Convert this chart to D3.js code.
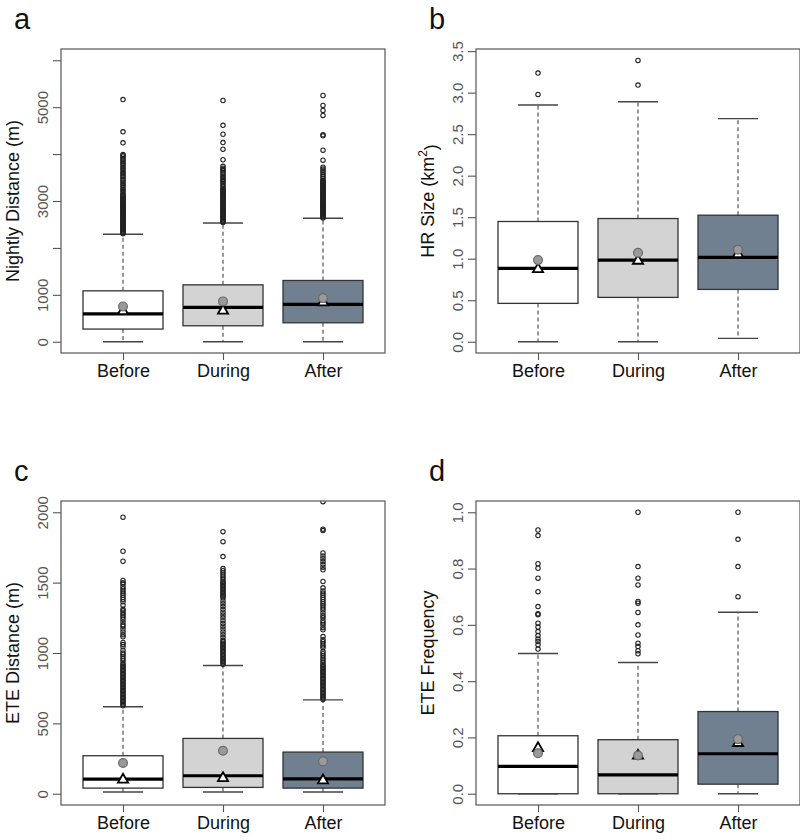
<!DOCTYPE html>
<html>
<head>
<meta charset="utf-8">
<script src="https://cdn.jsdelivr.net/npm/d3@7"></script>
<style>
  html, body { margin: 0; padding: 0; background: #fff; }
  svg { display: block; font-family: "Liberation Sans", Arial, sans-serif; }
</style>
</head>
<body>
<svg id="chart" width="800" height="840"></svg>
<script>
// ---------------- DATA ----------------
const categories = ["Before", "During", "After"];
const boxFills = ["#ffffff", "#d3d3d3", "#708090"];

// Panel a: Nightly Distance (m)
const nightlyLowerWhisker = [0, 0, 0];
const nightlyQ1 = [270, 340, 404];
const nightlyMedian = [596, 732, 796];
const nightlyQ3 = [1085, 1213, 1306];
const nightlyUpperWhisker = [2291, 2532, 2632];
const nightlyMean = [753, 860, 930];
const nightlyTriangle = [650, 660, 838];
const nightlyOutBefore = [2300,2320,2340,2360,2380,2400,2420,2440,2460,2480,2500,2520,2540,2560,2580,2600,2620,2640,2660,2680,2700,2720,2740,2760,2780,2800,2820,2840,2860,2880,2900,2920,2940,2960,2980,3000,3020,3040,3060,3080,3100,3120,3140,3180,3220,3250,3290,3330,3360,3400,3440,3470,3510,3540,3580,3610,3650,3690,3720,3760,3800,3830,3870,3900,3940,3970,3990,4241,4475,5163];
const nightlyOutDuring = [2540,2560,2580,2600,2620,2640,2660,2680,2700,2720,2740,2760,2780,2800,2820,2840,2860,2880,2900,2920,2940,2960,2980,3000,3020,3040,3060,3080,3100,3120,3140,3160,3180,3200,3220,3240,3260,3300,3330,3360,3400,3430,3460,3500,3530,3570,3600,3640,3670,3700,3740,3879,4105,4246,4423,4613,5142];
const nightlyOutAfter = [2640,2660,2680,2700,2720,2740,2760,2780,2800,2820,2840,2860,2880,2900,2920,2940,2960,2980,3000,3020,3040,3060,3080,3100,3120,3140,3160,3180,3200,3220,3240,3260,3280,3300,3320,3340,3360,3380,3400,3420,3440,3480,3520,3560,3600,3640,3680,3720,3870,4083,4390,4410,4825,4931,5037,5249];
const nightlyYlim = [0, 6000];
const nightlyTicks = [0, 1000, 2000, 3000, 4000, 5000, 6000];
const nightlyTickLabels = [0, 1000, 3000, 5000];

// Panel b: HR Size (km2)
const hrLowerWhisker = [0, 0, 0.041];
const hrQ1 = [0.462, 0.534, 0.630];
const hrMedian = [0.883, 0.983, 1.015];
const hrQ3 = [1.448, 1.484, 1.524];
const hrUpperWhisker = [2.851, 2.891, 2.687];
const hrMean = [0.983, 1.071, 1.107];
const hrTriangle = [0.875, 0.975, 1.055];
const hrOutBefore = [2.979, 3.236];
const hrOutDuring = [3.091, 3.388];
const hrOutAfter = [];
const hrYlim = [0, 3.39];
const hrTicks = [0, 0.5, 1.0, 1.5, 2.0, 2.5, 3.0, 3.5];
const hrTickLabels = [0, 0.5, 1.0, 1.5, 2.0, 2.5, 3.0, 3.5];

// Panel c: ETE Distance (m)
const eteDistLowerWhisker = [12, 12, 12];
const eteDistQ1 = [40, 45, 40];
const eteDistMedian = [104, 128, 106];
const eteDistQ3 = [270, 393, 296];
const eteDistUpperWhisker = [618, 911, 667];
const eteDistMean = [218, 305, 230];
const eteDistTriangle = [100, 111, 95];
const eteDistOutBefore = [625,635,645,655,665,675,685,695,705,715,725,735,745,755,765,775,785,795,805,815,825,835,845,855,865,875,885,895,905,915,925,945,960,975,990,1000,1020,1045,1060,1075,1115,1130,1150,1170,1190,1200,1220,1240,1255,1270,1285,1300,1310,1340,1365,1380,1395,1410,1425,1440,1455,1470,1490,1500,1515,1652,1723,1965];
const eteDistOutDuring = [920,930,940,950,960,970,980,990,1000,1010,1020,1030,1040,1050,1060,1070,1080,1090,1110,1130,1150,1170,1190,1210,1230,1250,1270,1290,1310,1330,1350,1370,1390,1400,1410,1420,1430,1440,1450,1460,1470,1480,1490,1500,1510,1525,1540,1555,1570,1585,1600,1685,1791,1862];
const eteDistOutAfter = [670,680,690,700,710,720,730,740,750,760,770,780,790,800,810,820,830,840,850,860,870,880,890,900,910,920,935,950,965,980,995,1010,1037,1050,1065,1080,1095,1117,1165,1180,1200,1215,1230,1250,1265,1285,1306,1320,1335,1350,1365,1380,1395,1410,1425,1440,1463,1508,1591,1610,1630,1650,1670,1690,1711,1870,1880,2075];
const eteDistYlim = [0, 2000];
const eteDistTicks = [0, 500, 1000, 1500, 2000];
const eteDistTickLabels = [0, 500, 1000, 1500, 2000];

// Panel d: ETE Frequency
const eteFreqLowerWhisker = [0, 0, 0];
const eteFreqQ1 = [0, 0, 0.034];
const eteFreqMedian = [0.097, 0.067, 0.142];
const eteFreqQ3 = [0.206, 0.192, 0.292];
const eteFreqUpperWhisker = [0.498, 0.466, 0.645];
const eteFreqMean = [0.144, 0.136, 0.194];
const eteFreqTriangle = [0.162, 0.135, 0.180];
const eteFreqOutBefore = [0.514,0.529,0.541,0.550,0.562,0.576,0.592,0.606,0.636,0.639,0.665,0.718,0.766,0.801,0.817,0.917,0.937];
const eteFreqOutDuring = [0.497,0.508,0.523,0.535,0.564,0.600,0.644,0.677,0.683,0.742,0.766,0.807,1.0];
const eteFreqOutAfter = [0.70, 0.807, 0.904, 1.0];
const eteFreqYlim = [0, 1];
const eteFreqTicks = [0, 0.2, 0.4, 0.6, 0.8, 1.0];
const eteFreqTickLabels = [0, 0.2, 0.4, 0.6, 0.8, 1.0];

// ---------------- PANELS ----------------
const panels = [
  { letter: "a", title: "Nightly Distance (m)", left: 61, top: 49,
    lo: nightlyLowerWhisker, q1: nightlyQ1, med: nightlyMedian, q3: nightlyQ3, hi: nightlyUpperWhisker,
    mean: nightlyMean, tri: nightlyTriangle, outs: [nightlyOutBefore, nightlyOutDuring, nightlyOutAfter],
    ylim: nightlyYlim, ticks: nightlyTicks, labels: nightlyTickLabels, fmt: d3.format("d") },
  { letter: "b", title: "HR Size (km2)", sup: true, left: 476, top: 49,
    lo: hrLowerWhisker, q1: hrQ1, med: hrMedian, q3: hrQ3, hi: hrUpperWhisker,
    mean: hrMean, tri: hrTriangle, outs: [hrOutBefore, hrOutDuring, hrOutAfter],
    ylim: hrYlim, ticks: hrTicks, labels: hrTickLabels, fmt: d3.format(".1f") },
  { letter: "c", title: "ETE Distance (m)", left: 61, top: 501,
    lo: eteDistLowerWhisker, q1: eteDistQ1, med: eteDistMedian, q3: eteDistQ3, hi: eteDistUpperWhisker,
    mean: eteDistMean, tri: eteDistTriangle, outs: [eteDistOutBefore, eteDistOutDuring, eteDistOutAfter],
    ylim: eteDistYlim, ticks: eteDistTicks, labels: eteDistTickLabels, fmt: d3.format("d") },
  { letter: "d", title: "ETE Frequency", left: 476, top: 501,
    lo: eteFreqLowerWhisker, q1: eteFreqQ1, med: eteFreqMedian, q3: eteFreqQ3, hi: eteFreqUpperWhisker,
    mean: eteFreqMean, tri: eteFreqTriangle, outs: [eteFreqOutBefore, eteFreqOutDuring, eteFreqOutAfter],
    ylim: eteFreqYlim, ticks: eteFreqTicks, labels: eteFreqTickLabels, fmt: d3.format(".1f") }
];

const W = 324, H = 304;
const svg = d3.select("#chart");

panels.forEach((p, pi) => {
  const g = svg.append("g").attr("transform", `translate(${p.left},${p.top})`);
  const ext = (p.ylim[1] - p.ylim[0]) * 0.04;
  const y = d3.scaleLinear().domain([p.ylim[0] - ext, p.ylim[1] + ext]).range([H, 0]);
  const x = d3.scaleLinear().domain([0.38, 3.62]).range([0, W]);
  const boxHalf = 0.4, capHalf = 0.2;

  const clipId = "clip" + pi;
  g.append("clipPath").attr("id", clipId).append("rect").attr("width", W).attr("height", H);
  const plot = g.append("g").attr("clip-path", `url(#${clipId})`);

  categories.forEach((c, i) => {
    const cx = x(i + 1);
    const bg = plot.append("g");
    // whiskers (dashed)
    bg.append("line").attr("x1", cx).attr("x2", cx).attr("y1", y(p.q3[i])).attr("y2", y(p.hi[i]))
      .attr("stroke", "#444").attr("stroke-width", 1.1).attr("stroke-dasharray", "4,3");
    bg.append("line").attr("x1", cx).attr("x2", cx).attr("y1", y(p.q1[i])).attr("y2", y(p.lo[i]))
      .attr("stroke", "#444").attr("stroke-width", 1.1).attr("stroke-dasharray", "4,3");
    // caps
    [p.hi[i], p.lo[i]].forEach(v => {
      bg.append("line").attr("x1", x(i + 1 - capHalf)).attr("x2", x(i + 1 + capHalf))
        .attr("y1", y(v)).attr("y2", y(v)).attr("stroke", "#444").attr("stroke-width", 1.4);
    });
    // box
    bg.append("rect").attr("x", x(i + 1 - boxHalf)).attr("width", x(i + 1 + boxHalf) - x(i + 1 - boxHalf))
      .attr("y", y(p.q3[i])).attr("height", Math.max(0.5, y(p.q1[i]) - y(p.q3[i])))
      .attr("fill", boxFills[i]).attr("stroke", "#333").attr("stroke-width", 1.3);
    // median
    bg.append("line").attr("x1", x(i + 1 - boxHalf)).attr("x2", x(i + 1 + boxHalf))
      .attr("y1", y(p.med[i])).attr("y2", y(p.med[i])).attr("stroke", "#000").attr("stroke-width", 3.2);
    // outliers
    bg.selectAll("circle.out").data(p.outs[i]).join("circle").attr("class", "out")
      .attr("cx", cx).attr("cy", d => y(d)).attr("r", 2.2)
      .attr("fill", "none").attr("stroke", "#222").attr("stroke-width", 1.1);
    // triangle
    const ty = y(p.tri[i]);
    bg.append("path").attr("d", d3.symbol().type(d3.symbolTriangle).size(45)())
      .attr("transform", `translate(${cx},${ty})`)
      .attr("fill", "#fff").attr("stroke", "#000").attr("stroke-width", 1.8);
    // mean circle
    bg.append("circle").attr("cx", cx).attr("cy", y(p.mean[i])).attr("r", 4.4)
      .attr("fill", "#9a9a9a").attr("stroke", "#6a6a6a").attr("stroke-width", 1.2);
  });

  // frame
  g.append("rect").attr("width", W).attr("height", H).attr("fill", "none")
    .attr("stroke", "#555").attr("stroke-width", 1.2);

  // y axis
  const yAxis = d3.axisLeft(y).tickValues(p.ticks).tickSize(8)
    .tickFormat(d => p.labels.some(l => Math.abs(l - d) < 1e-9) ? p.fmt(d) : "");
  const ya = g.append("g").call(yAxis);
  ya.select(".domain").remove();
  ya.selectAll(".tick line").attr("stroke", "#555").attr("stroke-width", 1.1);
  ya.selectAll(".tick text")
    .attr("transform", "rotate(-90)")
    .attr("x", 0).attr("y", -13).attr("dy", 0)
    .attr("text-anchor", "middle")
    .attr("fill", "#555").style("font-size", "15px")
    .style("font-family", "'Liberation Sans', Arial, sans-serif");

  // x axis
  const xAxis = d3.axisBottom(x).tickValues([1, 2, 3]).tickSize(7).tickFormat(d => categories[d - 1]);
  const xa = g.append("g").attr("transform", `translate(0,${H})`).call(xAxis);
  xa.select(".domain").remove();
  xa.selectAll(".tick line").attr("stroke", "#555").attr("stroke-width", 1.1);
  xa.selectAll(".tick text").attr("y", 11).attr("dy", "0.71em")
    .attr("fill", "#111").style("font-size", "18px")
    .style("font-family", "'Liberation Sans', Arial, sans-serif");

  // y title
  const t = g.append("text").attr("transform", `translate(-42,${H / 2}) rotate(-90)`)
    .attr("text-anchor", "middle").attr("fill", "#111").style("font-size", "18px");
  if (p.sup) {
    t.append("tspan").text("HR Size (km");
    t.append("tspan").text("2").attr("dy", "-0.55em").style("font-size", "12px");
    t.append("tspan").text(")").attr("dy", "0.55em");
  } else {
    t.text(p.title);
  }

  // panel letter
  svg.append("text").attr("x", p.left - 47).attr("y", p.top - 20)
    .attr("fill", "#111").style("font-size", "29px").text(p.letter);
});
</script>
</body>
</html>
